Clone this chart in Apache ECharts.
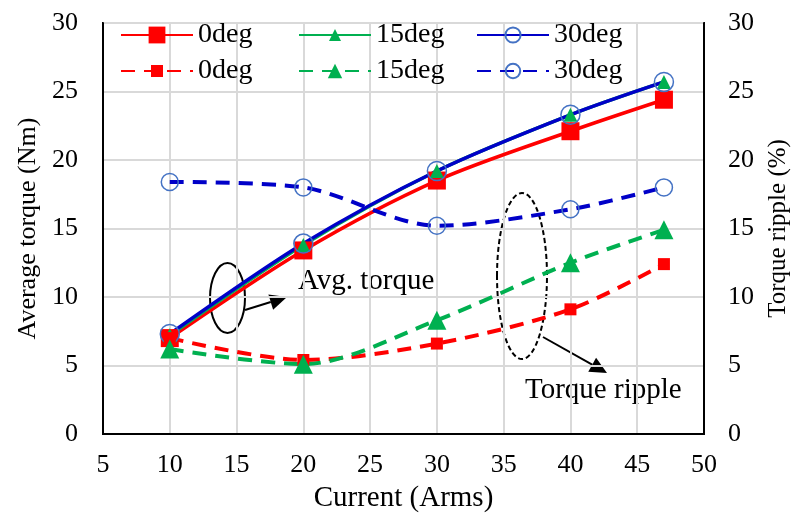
<!DOCTYPE html>
<html>
<head>
<meta charset="utf-8">
<script src="https://cdn.jsdelivr.net/npm/echarts@6/dist/echarts.min.js"></script>
<style>
  html, body { margin: 0; padding: 0; background: #fff; }
  #main { width: 793px; height: 521px; }
</style>
</head>
<body>
<div id="main"></div>
<script>
// data
var current = [10, 20, 30, 40, 47];
var torque0 = [7.0, 13.4, 18.5, 22.1, 24.4];
var torque15 = [7.2, 13.8, 19.2, 23.3, 25.7];
var torque30 = [7.3, 13.9, 19.2, 23.3, 25.7];
var ripple0 = [7.0, 5.4, 6.6, 9.1, 12.4];
var ripple15 = [6.2, 5.1, 8.3, 12.5, 14.9];
var ripple30 = [18.4, 18.0, 15.2, 16.4, 18.0];
var legendLabels = { T0: '0deg', T15: '15deg', T30: '30deg', R0: '0deg', R15: '15deg', R30: '30deg' };

var FONT = "'Liberation Serif', 'Times New Roman', serif";
var RED = '#ff0000', GREEN = '#00b050', BLUE = '#0000c8', CIRC = '#4472c4';

function pairs(ys) {
    return current.map(function (x, i) { return [x, ys[i]]; });
}

function lineSeries(name, ys, axis, color, dashed, symbol, size) {
    var s = {
        name: name,
        type: 'line',
        yAxisIndex: axis,
        smooth: 0.3,
        data: pairs(ys),
        symbol: symbol,
        symbolSize: size,
        lineStyle: { color: color, width: dashed ? 4 : 3.5, type: dashed ? [14, 9] : 'solid' },
        itemStyle: { color: color }
    };
    if (symbol === 'circle') {
        s.itemStyle = { color: 'rgba(255,255,255,0)', borderColor: CIRC, borderWidth: 1.5 };
    }
    return s;
}

function arrow(x1, y1, x2, y2) {
    var a = Math.atan2(y2 - y1, x2 - x1), L = 17, W = 8;
    var bx = x2 - L * Math.cos(a), by = y2 - L * Math.sin(a);
    var px = -Math.sin(a) * W, py = Math.cos(a) * W;
    return [
        { type: 'line', shape: { x1: x1, y1: y1, x2: bx, y2: by }, style: { stroke: '#000', lineWidth: 2 } },
        { type: 'polygon', shape: { points: [[x2, y2], [bx + px, by + py], [bx - px, by - py]] }, style: { fill: '#000' } }
    ];
}

// name, left, top, itemHeight
var legendPos = [
    ['T0', 120, 21, 21], ['T15', 298, 21, 15], ['T30', 476, 21, 19],
    ['R0', 120, 57, 15], ['R15', 298, 57, 18], ['R30', 476, 57, 18]
];

var chart = echarts.init(document.getElementById('main'));
chart.setOption({
    animation: false,
    textStyle: { fontFamily: FONT },
    grid: {
        left: 103, right: 89, top: 23, bottom: 87, outerBoundsMode: 'none',
        show: true, borderColor: '#000', borderWidth: 2
    },
    legend: legendPos.map(function (p) {
        return {
            data: [p[0]], left: p[1], top: p[2], padding: 0,
            itemWidth: 72, itemHeight: p[3],
            formatter: function (n) { return legendLabels[n]; },
            textStyle: { fontFamily: FONT, fontSize: 28, color: '#000' }
        };
    }),
    xAxis: {
        type: 'value', min: 5, max: 50, interval: 5,
        name: 'Current (Arms)', nameLocation: 'middle', nameGap: 50,
        nameTextStyle: { fontFamily: FONT, fontSize: 29, color: '#000' },
        axisLine: { lineStyle: { color: '#000', width: 2 } },
        axisTick: { show: false },
        axisLabel: { fontFamily: FONT, fontSize: 26, color: '#000', margin: 18 },
        splitLine: { lineStyle: { color: '#d9d9d9', width: 2 } }
    },
    yAxis: [{
        type: 'value', min: 0, max: 30, interval: 5,
        name: 'Average torque (Nm)', nameLocation: 'middle', nameGap: 62,
        nameTextStyle: { fontFamily: FONT, fontSize: 26, color: '#000' },
        axisLine: { show: true, lineStyle: { color: '#000', width: 2 } },
        axisTick: { show: false },
        axisLabel: { fontFamily: FONT, fontSize: 26, color: '#000', margin: 25 },
        splitLine: { lineStyle: { color: '#d9d9d9', width: 2 } }
    }, {
        type: 'value', min: 0, max: 30, interval: 5, position: 'right',
        name: 'Torque ripple (%)', nameLocation: 'middle', nameGap: 62,
        nameTextStyle: { fontFamily: FONT, fontSize: 25, color: '#000' },
        axisLine: { show: true, lineStyle: { color: '#000', width: 2 } },
        axisTick: { show: false },
        axisLabel: { fontFamily: FONT, fontSize: 26, color: '#000', margin: 24 },
        splitLine: { show: false }
    }],
    series: [
        lineSeries('T0', torque0, 0, RED, false, 'rect', 18),
        lineSeries('T15', torque15, 0, GREEN, false, 'triangle', 14),
        lineSeries('T30', torque30, 0, BLUE, false, 'circle', 19),
        lineSeries('R0', ripple0, 1, RED, true, 'rect', 12),
        lineSeries('R15', ripple15, 1, GREEN, true, 'triangle', 19),
        lineSeries('R30', ripple30, 1, BLUE, true, 'circle', 17)
    ],
    graphic: [
        { type: 'ellipse', shape: { cx: 227.5, cy: 298, rx: 17.5, ry: 35 }, style: { fill: 'none', stroke: '#000', lineWidth: 2 } },
        { type: 'ellipse', shape: { cx: 522, cy: 276, rx: 25, ry: 83 }, style: { fill: 'none', stroke: '#000', lineWidth: 2, lineDash: [5, 3] } },
        { type: 'text', left: 298, top: 267, style: { text: 'Avg. torque', font: '29px ' + FONT, fill: '#000' } },
        { type: 'text', left: 525, top: 376, style: { text: 'Torque ripple', font: '29px ' + FONT, fill: '#000' } }
    ].concat(arrow(245, 310, 287, 297), arrow(543, 337, 607, 373))
});
</script>
</body>
</html>
